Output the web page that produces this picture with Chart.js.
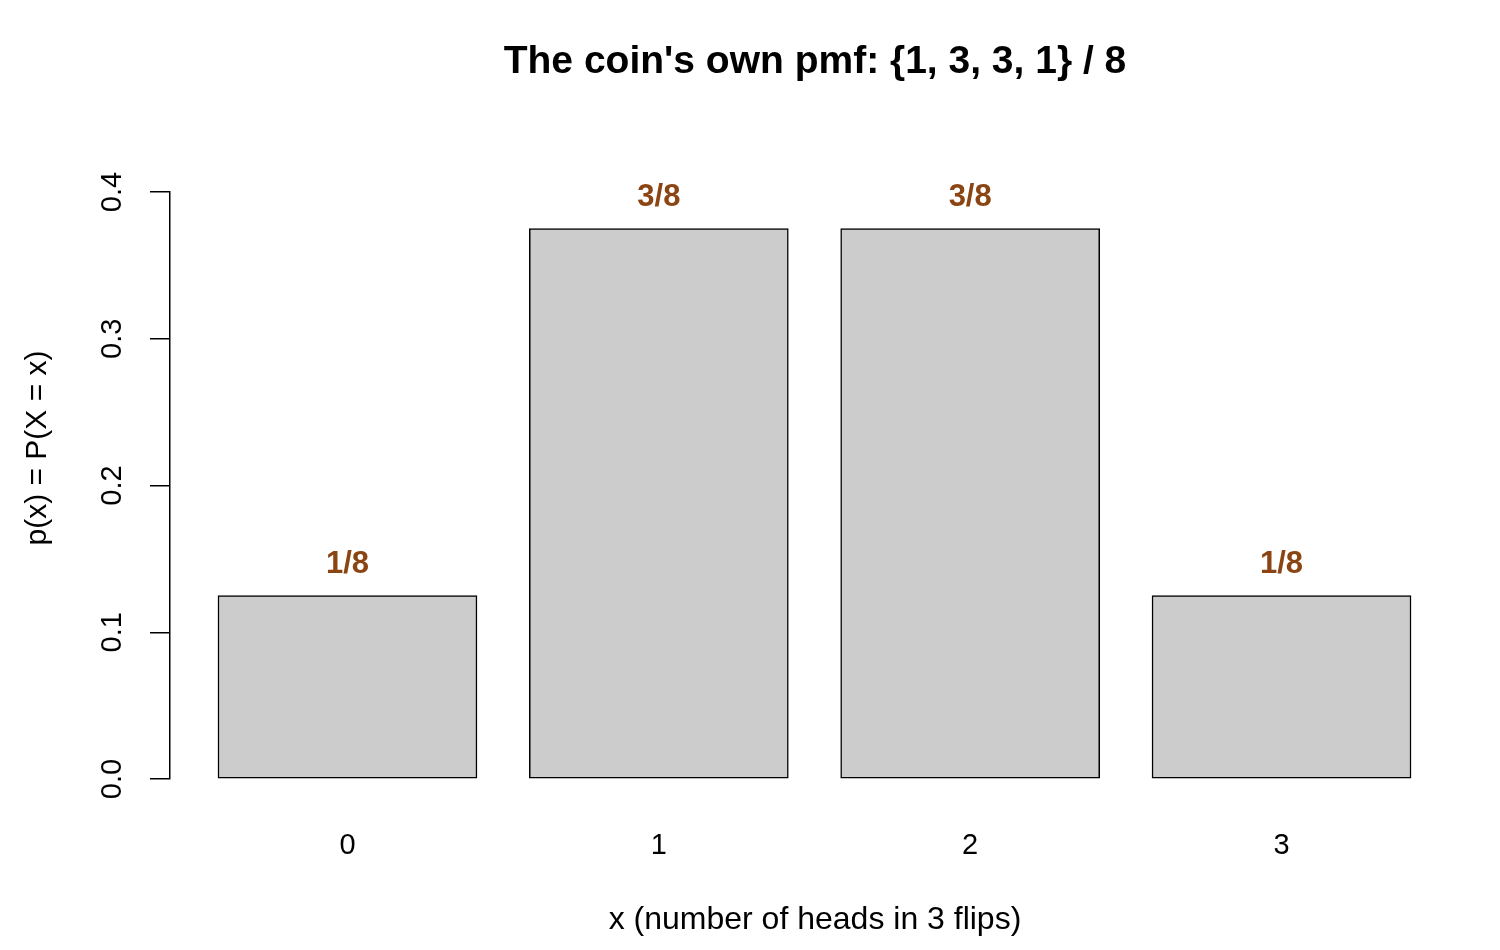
<!DOCTYPE html>
<html><head><meta charset="utf-8">
<script src="https://cdn.jsdelivr.net/npm/chart.js@4"></script>
<style>html,body{margin:0;padding:0;background:#fff}#w{width:1500px;height:950px}</style>
</head><body><div id="w"><canvas id="c"></canvas></div>
<script>
const categories = ['0','1','2','3'];
const barCenters = [0.7, 1.9, 3.1, 4.3];
const probs = [0.125, 0.375, 0.375, 0.125];
const barLabels = ['1/8','3/8','3/8','1/8'];
const yTicks = [0, 0.1, 0.2, 0.3, 0.4];
const yTickLabels = ['0.0','0.1','0.2','0.3','0.4'];
const FONT = 'Arial, "Liberation Sans", sans-serif';

const textPlugin = {
  id: 'texts',
  afterDraw(chart) {
    const ctx = chart.ctx, x = chart.scales.x, y = chart.scales.y;
    ctx.save();
    ctx.fillStyle = '#000';
    ctx.textAlign = 'center'; ctx.textBaseline = 'middle';
    ctx.font = 'bold 39px ' + FONT;
    ctx.fillText("The coin's own pmf: {1, 3, 3, 1} / 8", 815, 62);
    ctx.font = '32px ' + FONT;
    ctx.fillText('x (number of heads in 3 flips)', 815, 920);
    ctx.font = '29px ' + FONT;
    yTicks.forEach((v, i) => {
      ctx.save(); ctx.translate(113, y.getPixelForValue(v)); ctx.rotate(-Math.PI/2);
      ctx.fillText(yTickLabels[i], 0, 0); ctx.restore();
    });
    ctx.font = '30px ' + FONT;
    ctx.save(); ctx.translate(38, 448); ctx.rotate(-Math.PI/2);
    ctx.fillText('p(x) = P(X = x)', 0, 0); ctx.restore();
    ctx.fillStyle = '#8B4513'; ctx.font = 'bold 31px ' + FONT;
    probs.forEach((p, i) => {
      ctx.fillText(barLabels[i], x.getPixelForValue(barCenters[i]), y.getPixelForValue(p) - 31);
    });
    ctx.restore();
  }
};

new Chart(document.getElementById('c'), {
  type: 'bar',
  data: { datasets: [{
    data: barCenters.map((c, i) => ({x: c, y: probs[i]})),
    backgroundColor: '#cccccc', borderColor: '#000', borderWidth: 1.5,
    barThickness: 259, borderSkipped: false
  }]},
  options: {
    responsive: true, maintainAspectRatio: false, animation: false,
    layout: { padding: { top: 192, right: 41, left: 0, bottom: 0 } },
    plugins: { legend: { display: false }, tooltip: { enabled: false } },
    scales: {
      x: {
        type: 'linear', min: 0.016, max: 4.984, offset: false,
        afterBuildTicks: s => { s.ticks = barCenters.map(v => ({value: v})); },
        ticks: { callback: (v, i) => categories[i], font: { size: 29, family: FONT }, color: '#000', padding: 42, maxRotation: 0 },
        grid: { display: false }, border: { display: false },
        afterFit: s => { s.height = 171; }
      },
      y: {
        min: 0, max: 0.4,
        afterBuildTicks: s => { s.ticks = yTicks.map(v => ({value: v})); },
        ticks: { display: false },
        grid: { drawOnChartArea: false, tickLength: 20, color: '#000', lineWidth: 1.5 },
        border: { display: true, color: '#000', width: 1.5 },
        afterFit: s => { s.width = 170; }
      }
    }
  },
  plugins: [textPlugin]
});
</script></body></html>
